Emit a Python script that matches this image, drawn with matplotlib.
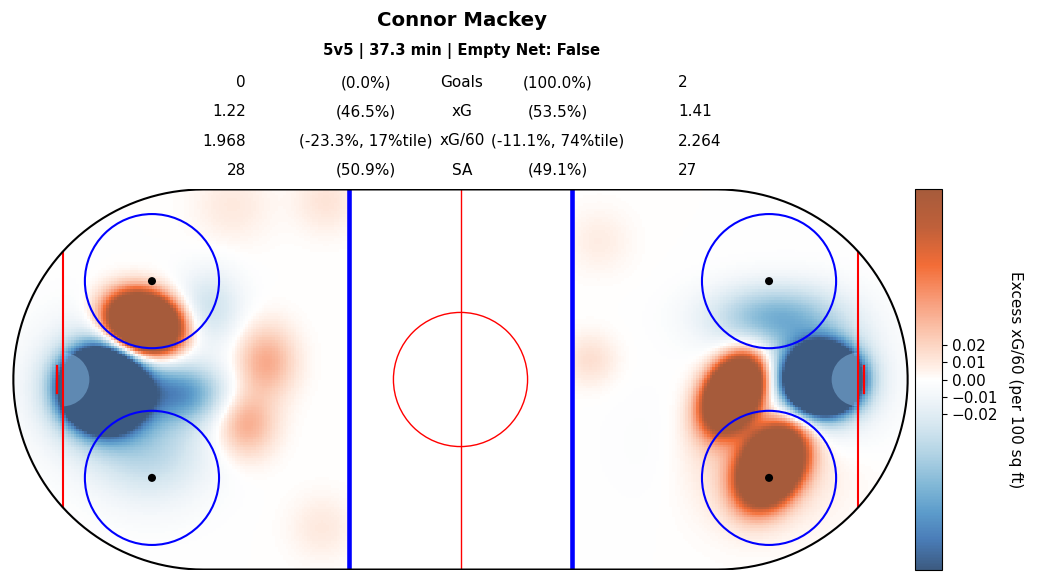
import numpy as np
import matplotlib
matplotlib.use("Agg")
import matplotlib.pyplot as plt
from matplotlib.colors import LinearSegmentedColormap, Normalize
from matplotlib.patches import Circle, Wedge, PathPatch
from matplotlib.path import Path

# ---------------- data ----------------
player = "Connor Mackey"
subtitle = "5v5 | 37.3 min | Empty Net: False"
stat_labels = ["Goals", "xG", "xG/60", "SA"]
left_vals = ["0", "1.22", "1.968", "28"]
left_pct = ["(0.0%)", "(46.5%)", "(-23.3%, 17%tile)", "(50.9%)"]
right_pct = ["(100.0%)", "(53.5%)", "(-11.1%, 74%tile)", "(49.1%)"]
right_vals = ["2", "1.41", "2.264", "27"]

cbar_ticks = [-0.02, -0.01, 0.0, 0.01, 0.02]
cbar_label = "Excess xG/60 (per 100 sq ft)"
vlim = 0.112

# hot spots of the excess-xG surface (ft): x, y, amplitude, spread along/across, angle (deg)
hot_x = [-70.9, -80.0, -80.0, -62.0, -69.0, -56.0, -43.5, -48.0, -51.0, -30.0, -31.0,
         81.0, 80.0, 70.0, 61.0, 69.5, 66.0, 29.0, 31.0, 50.0]
hot_y = [12.6, -2.3, -2.0, -3.0, -16.0, 16.0, 4.0, -10.0, 39.0, 40.0, -33.0,
         0.0, 0.0, 14.0, -3.1, -19.4, -16.0, 4.4, 31.0, -15.0]
hot_amp = [0.45, -0.6, -0.07, -0.07, -0.035, -0.03, 0.04, 0.04, 0.01, 0.0125, 0.01,
           -0.5, -0.05, -0.06, 0.4, 0.4, 0.03, 0.015, 0.008, -0.008]
hot_sa = [5.0, 5.0, 9.0, 6.5, 9.0, 5.0, 4.5, 4.5, 6.0, 5.0, 5.0,
          4.8, 9.0, 10.0, 5.4, 5.6, 12.0, 4.0, 5.0, 10.0]
hot_sb = [3.9, 4.8, 9.0, 4.5, 8.0, 6.0, 5.5, 5.0, 6.0, 5.0, 5.0,
          4.4, 9.0, 5.0, 3.6, 3.9, 10.0, 4.0, 5.0, 10.0]
hot_ang = [-20, -30, 0, 0, 0, 0, 0, 0, 0, 0, 0,
           0, 0, 0, 62, 60, 0, 0, 0, 0]

# ---------------- colormap ----------------
cmap = LinearSegmentedColormap.from_list("xg", [
    (0.00, "#3c5a80"), (0.08, "#4a7db8"), (0.15, "#5c9ccb"), (0.22, "#80b7d6"),
    (0.30, "#b0d2e4"), (0.38, "#d6e7f0"), (0.45, "#f0f5f9"), (0.50, "#ffffff"),
    (0.53, "#fff0e8"), (0.60, "#fcd1bd"), (0.70, "#f8a07f"), (0.80, "#f36d37"),
    (0.90, "#c0603a"), (1.00, "#a65b3b")])
norm = Normalize(-vlim, vlim)

W, H = 1041, 582
fig = plt.figure(figsize=(W / 100, H / 100), dpi=100)

def fx(px):
    return px / W

def fy(py):
    return 1 - py / H

ax = fig.add_axes([fx(12), fy(570), (909 - 12) / W, (570 - 189) / H])
ax.set_xlim(-100.3, 100.3)
ax.set_ylim(-42.6, 42.6)
ax.axis("off")

# surface
step = 0.6
xs = np.arange(-100, 100 + step, step)
ys = np.arange(-42.5, 42.5 + step, step)
X, Y = np.meshgrid(xs, ys)
Z = np.zeros_like(X)
for x0, y0, a, sa, sb, ang in zip(hot_x, hot_y, hot_amp, hot_sa, hot_sb, hot_ang):
    t = np.deg2rad(ang)
    dx, dy = X - x0, Y - y0
    u = dx * np.cos(t) + dy * np.sin(t)
    v = -dx * np.sin(t) + dy * np.cos(t)
    Z += a * np.exp(-(u ** 2 / (2 * sa ** 2) + v ** 2 / (2 * sb ** 2)))
Z[np.abs(X) < 25] = np.nan

# rink outline path
R = 42.5
def rink_path():
    verts = []
    th = np.linspace(np.pi / 2, 3 * np.pi / 2, 80)
    cx = -100 + R
    verts += [(cx + R * np.cos(a), R * np.sin(a)) for a in th]
    th2 = np.linspace(-np.pi / 2, np.pi / 2, 80)
    cx2 = 100 - R
    verts += [(cx2 + R * np.cos(a), R * np.sin(a)) for a in th2]
    verts.append(verts[0])
    codes = [Path.MOVETO] + [Path.LINETO] * (len(verts) - 2) + [Path.CLOSEPOLY]
    return Path(verts, codes)

rp = rink_path()
im = ax.imshow(Z, extent=(xs[0] - step / 2, xs[-1] + step / 2, ys[0] - step / 2, ys[-1] + step / 2),
               origin="lower", cmap=cmap, norm=norm, interpolation="nearest", zorder=1)
clip = PathPatch(rp, transform=ax.transData, facecolor="none", edgecolor="none")
ax.add_patch(clip)
im.set_clip_path(clip)

# creases, lines, circles
for side in (-1, 1):
    gx = side * 89
    if side == -1:
        w = Wedge((gx, 0), 6, -90, 90, facecolor=(0.59, 0.82, 1.0), alpha=0.4, edgecolor="none", zorder=2)
    else:
        w = Wedge((gx, 0), 6, 90, 270, facecolor=(0.59, 0.82, 1.0), alpha=0.4, edgecolor="none", zorder=2)
    ax.add_patch(w)
    dx = abs(gx) - (100 - R)
    dyv = np.sqrt(R ** 2 - dx ** 2)
    ax.plot([gx, gx], [-dyv, dyv], color="red", lw=1.5, zorder=3)
    ax.plot([side * 90.3, side * 90.3], [-3, 3], color="red", lw=1.6, zorder=3)
    ax.plot([side * 25, side * 25], [-42.5, 42.5], color="blue", lw=3.3, zorder=3)
    for cy in (22, -22):
        ax.add_patch(Circle((side * 69, cy), 15, fill=False, edgecolor="blue", lw=1.5, zorder=3))
        ax.add_patch(Circle((side * 69, cy), 0.9, facecolor="black", edgecolor="none", zorder=4))

ax.plot([0, 0], [-42.5, 42.5], color="red", lw=1.0, zorder=3)
ax.add_patch(Circle((0, 0), 15, fill=False, edgecolor="red", lw=1.0, zorder=3))
ax.add_patch(PathPatch(rp, facecolor="none", edgecolor="black", lw=1.5, zorder=5))

# colorbar
cax = fig.add_axes([fx(915), fy(570), (942 - 915) / W, (570 - 189) / H])
cb = fig.colorbar(im, cax=cax)
cb.set_ticks(cbar_ticks)
cb.set_ticklabels([f"{t:.2f}".replace("-", "\u2212") for t in cbar_ticks])
cb.ax.tick_params(labelsize=11)
cb.set_label(cbar_label, rotation=270, fontsize=11, labelpad=18)

# texts
fig.text(fx(462), fy(21), player, ha="center", va="center", fontsize=14.2, fontweight="bold")
fig.text(fx(462), fy(51), subtitle, ha="center", va="center", fontsize=10.7, fontweight="bold")
rows_y = [83, 112, 141, 170]
for i, yy in enumerate(rows_y):
    fig.text(fx(246), fy(yy), left_vals[i], ha="right", va="center", fontsize=11)
    fig.text(fx(366), fy(yy), left_pct[i], ha="center", va="center", fontsize=11)
    fig.text(fx(462), fy(yy), stat_labels[i], ha="center", va="center", fontsize=11)
    fig.text(fx(558), fy(yy), right_pct[i], ha="center", va="center", fontsize=11)
    fig.text(fx(678), fy(yy), right_vals[i], ha="left", va="center", fontsize=11)

fig.savefig("out.png", dpi=100)
